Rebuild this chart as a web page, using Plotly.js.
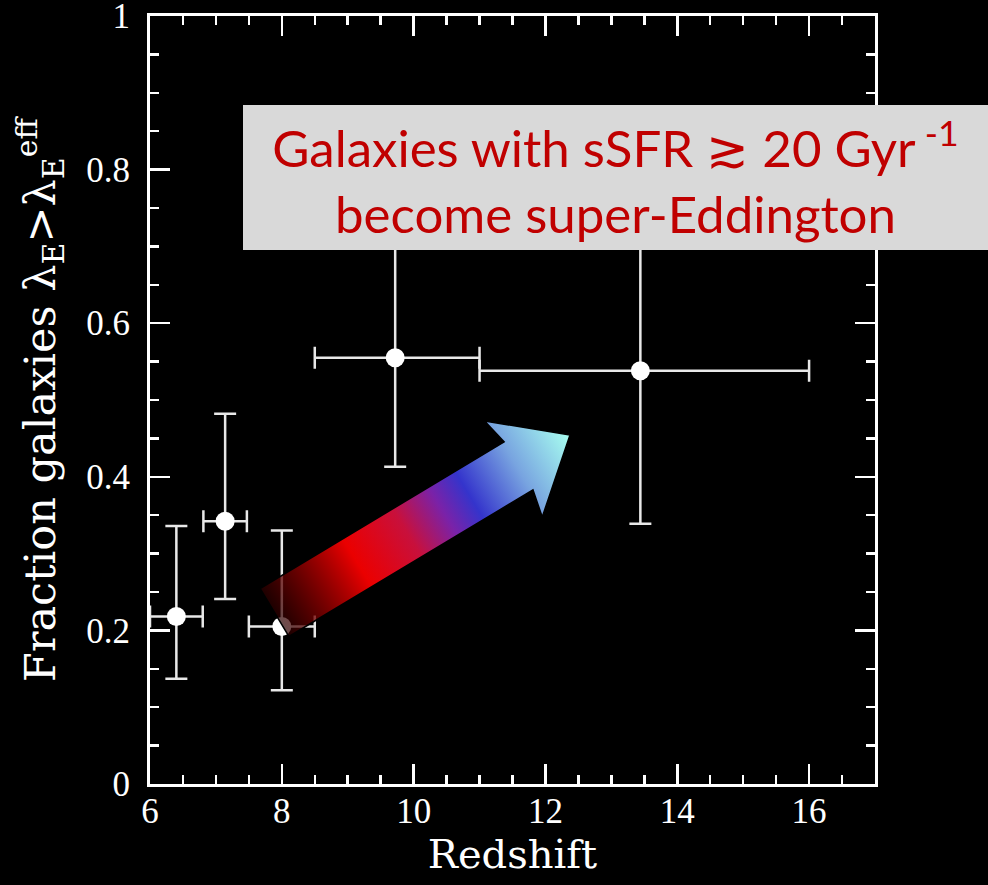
<!DOCTYPE html>
<html>
<head>
<meta charset="utf-8">
<script src="https://cdn.plot.ly/plotly-3.0.1.min.js"></script>
<style>html,body{margin:0;padding:0;background:#000;}#chart{width:988px;height:885px;}</style>
</head>
<body>
<div id="chart"></div>
<script>
// ---- data ----
const redshift      = [6.40, 7.14, 8.00, 9.72, 13.44];
const fraction      = [0.218, 0.342, 0.205, 0.555, 0.538];
const zErrMinus     = [0.40, 0.33, 0.50, 1.22, 2.44];
const zErrPlus      = [0.40, 0.33, 0.50, 1.28, 2.56];
const fracErrMinus  = [0.081, 0.101, 0.083, 0.142, 0.199];
const fracErrPlus   = [0.118, 0.140, 0.125, 0.145, 0.200];
const xTickVals     = [6, 8, 10, 12, 14, 16];
const yTickVals     = [0, 0.2, 0.4, 0.6, 0.8, 1];
const yTickText     = ['0', '0.2', '0.4', '0.6', '0.8', '1'];
const boxLine1      = 'Galaxies with sSFR \u2273 20 Gyr<sup> -1</sup>';
const boxLine2      = 'become super-Eddington';

// ---- geometry helpers (figure pixels -> axis coords) ----
const W = 988, H = 885, L = 150, R = 875, T = 16, B = 784;
const X0 = 6, X1 = 17, Y0 = 0, Y1 = 1;
const px2x = p => X0 + (p - L) / (R - L) * (X1 - X0);
const py2y = p => Y0 + (B - p) / (B - T) * (Y1 - Y0);

// ---- gradient arrow as an SVG image ----
function arrowImage() {
  const tail = [274.5, 612.5], tip = [570, 435];
  const bh = 28, hh = 56, hl = 60, back = 6;
  const dx = tip[0] - tail[0], dy = tip[1] - tail[1];
  const len = Math.hypot(dx, dy);
  const u = [dx / len, dy / len], n = [-u[1], u[0]];
  const base = [tip[0] - u[0] * hl, tip[1] - u[1] * hl];
  const P = (p, a, v, b, w) => [p[0] + a * v[0] + (b || 0) * (w ? w[0] : 0), p[1] + a * v[1] + (b || 0) * (w ? w[1] : 0)];
  const pts = [
    P(tail, bh, n), P(base, bh, n), P(base, hh, n, -back, u), tip.slice(),
    P(base, -hh, n, -back, u), P(base, -bh, n), P(tail, -bh, n)
  ];
  const pad = 4;
  const xs = pts.map(p => p[0]), ys = pts.map(p => p[1]);
  const minx = Math.min(...xs) - pad, maxx = Math.max(...xs) + pad;
  const miny = Math.min(...ys) - pad, maxy = Math.max(...ys) + pad;
  const w = maxx - minx, h = maxy - miny;
  const stops = [
    [0.00, '#2a0000', 0.7], [0.28, '#ff0000', 0.92], [0.45, '#c8103c', 1],
    [0.57, '#7a22a8', 1], [0.66, '#3434cc', 1], [0.82, '#78a4e0', 1], [1.00, '#a8fff0', 1]
  ];
  const svg = "<svg xmlns='http://www.w3.org/2000/svg' width='" + w + "' height='" + h +
    "' viewBox='" + minx + " " + miny + " " + w + " " + h + "'>" +
    "<defs><linearGradient id='g' gradientUnits='userSpaceOnUse' x1='" + tail[0] + "' y1='" + tail[1] +
    "' x2='" + tip[0] + "' y2='" + tip[1] + "'>" +
    stops.map(s => "<stop offset='" + s[0] + "' stop-color='" + s[1] + "' stop-opacity='" + s[2] + "'/>").join('') +
    "</linearGradient></defs>" +
    "<polygon points='" + pts.map(p => p[0].toFixed(2) + "," + p[1].toFixed(2)).join(' ') +
    "' fill='url(#g)' stroke='#000' stroke-width='1.5' stroke-linejoin='miter'/></svg>";
  return {
    source: 'data:image/svg+xml;base64,' + btoa(svg),
    xref: 'x', yref: 'y',
    x: px2x(minx), y: py2y(miny),
    sizex: px2x(maxx) - px2x(minx), sizey: py2y(miny) - py2y(maxy),
    xanchor: 'left', yanchor: 'top', sizing: 'stretch', layer: 'above', opacity: 1
  };
}

const trace = {
  type: 'scatter', mode: 'markers',
  x: redshift, y: fraction,
  marker: { color: '#ffffff', size: 19, line: { width: 0 } },
  error_x: { type: 'data', symmetric: false, array: zErrPlus, arrayminus: zErrMinus,
             color: '#e8e8e8', thickness: 2.5, width: 11 },
  error_y: { type: 'data', symmetric: false, array: fracErrPlus, arrayminus: fracErrMinus,
             color: '#e8e8e8', thickness: 2.5, width: 11 },
  hoverinfo: 'x+y', showlegend: false
};

const axisCommon = {
  showline: true, linecolor: '#ffffff', linewidth: 3, mirror: 'ticks',
  ticks: 'inside', ticklen: 20, tickwidth: 2.5, tickcolor: '#ffffff',
  showgrid: false, zeroline: false, automargin: false, ticklabeloverflow: 'allow',
  tickfont: { family: 'Liberation Serif, serif', size: 35, color: '#ffffff' }
};

const layout = {
  width: W, height: H,
  paper_bgcolor: '#000000', plot_bgcolor: '#000000',
  margin: { l: L, r: W - R, t: T, b: H - B, pad: 0 },
  showlegend: false,
  xaxis: Object.assign({}, axisCommon, {
    range: [X0, X1], tickmode: 'array', tickvals: xTickVals,
    ticklabelstandoff: -6,
    minor: { ticks: 'inside', ticklen: 9, tickwidth: 2.5, tickcolor: '#ffffff', dtick: 0.5, tick0: 6, showgrid: false },
    title: { text: 'Redshift', standoff: 0,
             font: { family: 'DejaVu Serif, serif', size: 40, color: '#ffffff' } }
  }),
  yaxis: Object.assign({}, axisCommon, {
    range: [Y0, Y1], tickmode: 'array', tickvals: yTickVals, ticktext: yTickText,
    ticklabelstandoff: 10,
    minor: { ticks: 'inside', ticklen: 9, tickwidth: 2.5, tickcolor: '#ffffff', dtick: 0.05, tick0: 0, showgrid: false },
    title: { text: 'Fraction galaxies \u03bb<sub>E</sub>>\u03bb<sub>E</sub><sup>eff</sup>', standoff: 18,
             font: { family: 'DejaVu Serif, serif', size: 43, color: '#ffffff' } }
  }),
  images: [arrowImage()],
  annotations: [{
    xref: 'paper', yref: 'paper',
    x: (615.5 - L) / (R - L), y: (B - 177.5) / (B - T),
    xanchor: 'center', yanchor: 'middle',
    width: 745, height: 145, borderpad: 0, borderwidth: 0,
    bgcolor: '#d9d9d9', showarrow: false, align: 'center',
    text: boxLine1 + '<br>' + boxLine2,
    font: { family: 'Lato, Noto Sans, sans-serif', size: 51, color: '#c00000' }
  }]
};

Plotly.newPlot('chart', [trace], layout, { displayModeBar: false, staticPlot: true });
</script>
</body>
</html>
